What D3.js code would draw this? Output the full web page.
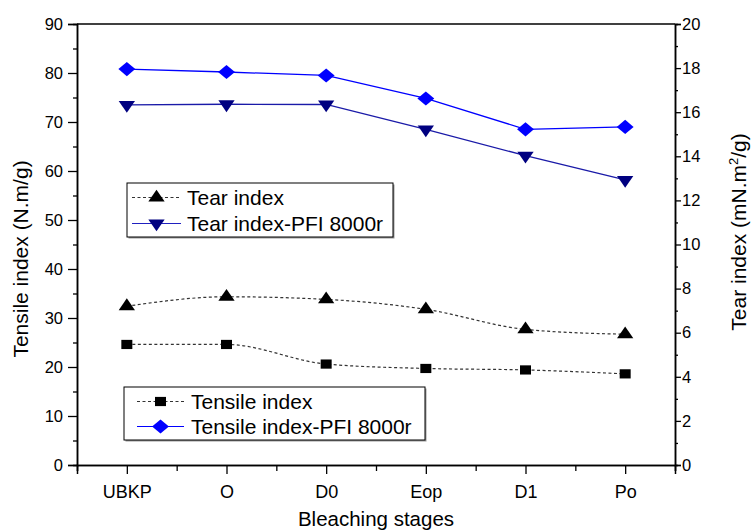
<!DOCTYPE html>
<html>
<head>
<meta charset="utf-8">
<script src="https://cdn.jsdelivr.net/npm/d3@7"></script>
<style>
  body { margin: 0; background: #fff; }
  svg { display: block; font-family: "Liberation Sans", Arial, sans-serif; }
</style>
</head>
<body>
<svg id="chart" width="751" height="531"></svg>
<script>
// data
const stages = ["UBKP", "O", "D0", "Eop", "D1", "Po"];
const tensile = [24.6, 24.6, 20.6, 19.7, 19.4, 18.6];
const tensilePFI = [80.8, 80.2, 79.5, 74.8, 68.5, 69.0];
const tear = [7.2, 7.63, 7.51, 7.06, 6.15, 5.93];
const tearPFI = [16.33, 16.36, 16.35, 15.22, 14.03, 12.93];
const leftTicks = [0, 10, 20, 30, 40, 50, 60, 70, 80, 90];
const rightTicks = [0, 2, 4, 6, 8, 10, 12, 14, 16, 18, 20];

const svg = d3.select("#chart");
const pLeft = 77, pRight = 675, pTop = 24, pBottom = 465;

let x = d3.scaleLinear().domain([0.5, 6.5]).range([pLeft, pRight]);
let yL = d3.scaleLinear().domain([0, 90]).range([pBottom, pTop]);
let yR = d3.scaleLinear().domain([0, 20]).range([pBottom, pTop]);

svg.append("rect").attr("width", 751).attr("height", 531).attr("fill", "#fff");

// axes
const axL = svg.append("g").attr("transform", `translate(${pLeft},0)`);
axL.call(d3.axisLeft(yL).tickValues(d3.range(5, 90, 10)).tickSize(4).tickFormat(""));
axL.call(g => g.append("g").call(d3.axisLeft(yL).tickValues(leftTicks).tickSize(9).tickPadding(5)));

const axR = svg.append("g").attr("transform", `translate(${pRight},0)`);
axR.call(d3.axisRight(yR).tickValues(d3.range(1, 20, 2)).tickSize(3).tickFormat(""));
axR.call(g => g.append("g").call(d3.axisRight(yR).tickValues(rightTicks).tickSize(6).tickPadding(1)));

const axB = svg.append("g").attr("transform", `translate(0,${pBottom})`);
axB.call(d3.axisBottom(x).tickValues(d3.range(0.5, 7, 1)).tickSize(6).tickFormat(""));
axB.call(g => g.append("g").call(d3.axisBottom(x).tickValues(d3.range(1, 7)).tickSize(9).tickPadding(11)
  .tickFormat((d, i) => stages[i])));

svg.append("line").attr("x1", pLeft).attr("x2", pRight).attr("y1", pTop).attr("y2", pTop)
  .attr("stroke", "#000").attr("stroke-width", 1.5);

svg.selectAll(".domain").attr("stroke", "#000").attr("stroke-width", 1.5);
svg.selectAll(".tick line").attr("stroke", "#000").attr("stroke-width", 1.3);
svg.selectAll(".tick text").attr("font-size", 16.5).attr("fill", "#000")
  .attr("font-family", "Liberation Sans, Arial, sans-serif");
axB.selectAll(".tick text").attr("font-size", 18);

// titles
svg.append("text").attr("transform", "translate(28,259) rotate(-90)")
  .attr("text-anchor", "middle").attr("font-size", 21).text("Tensile index (N.m/g)");
const rt = svg.append("text").attr("transform", "translate(746,232) rotate(-90)")
  .attr("text-anchor", "middle").attr("font-size", 21);
rt.append("tspan").text("Tear index (mN.m");
rt.append("tspan").attr("font-size", 13).attr("dy", -8).text("2");
rt.append("tspan").attr("dy", 8).text("/g)");
svg.append("text").attr("x", 376).attr("y", 526).attr("text-anchor", "middle")
  .attr("font-size", 20.5).text("Bleaching stages");

// series
const idx = d3.range(1, 7);
function drawLine(vals, scale, color, dash, curve) {
  const line = d3.line().x((d, i) => x(idx[i])).y(d => scale(d)).curve(curve);
  svg.append("path").datum(vals).attr("d", line).attr("fill", "none")
    .attr("stroke", color).attr("stroke-width", dash ? 1.2 : 1.3)
    .attr("stroke-dasharray", dash ? "3,2.5" : null);
}
drawLine(tensile, yL, "#333", true, d3.curveMonotoneX);
drawLine(tear, yR, "#333", true, d3.curveMonotoneX);
drawLine(tensilePFI, yL, "#0000ff", false, d3.curveLinear);
drawLine(tearPFI, yR, "#1a1aa8", false, d3.curveLinear);

const sym = {
  square: d3.symbol().type(d3.symbolSquare).size(100),
  diamond: d3.symbol().type(d3.symbolDiamond2).size(150),
  up: d3.symbol().type(d3.symbolTriangle).size(95),
};
function drawPts(vals, scale, shape, color, flip) {
  svg.append("g").selectAll("path").data(vals).join("path")
    .attr("transform", (d, i) => `translate(${x(idx[i])},${scale(d)}) scale(1.1,0.92)` + (flip ? " rotate(180)" : ""))
    .attr("d", sym[shape]).attr("fill", color);
}
drawPts(tensile, yL, "square", "#000");
drawPts(tear, yR, "up", "#000");
drawPts(tensilePFI, yL, "diamond", "#0000ff");
drawPts(tearPFI, yR, "up", "#000080", true);

// legends
function legend(x0, y0, w, h, items) {
  const g = svg.append("g");
  g.append("rect").attr("x", x0 + 1.5).attr("y", y0 + 1.5).attr("width", w).attr("height", h)
    .attr("fill", "#999");
  g.append("rect").attr("x", x0).attr("y", y0).attr("width", w).attr("height", h)
    .attr("fill", "#fff").attr("stroke", "#000").attr("stroke-width", 1);
  items.forEach(it => {
    g.append("line").attr("x1", x0 + it.lx0).attr("x2", x0 + it.lx1).attr("y1", it.y).attr("y2", it.y)
      .attr("stroke", it.lc).attr("stroke-width", 1.2).attr("stroke-dasharray", it.dash ? "3,2.5" : null);
    g.append("path").attr("transform", `translate(${x0 + (it.lx0 + it.lx1) / 2},${it.y}) scale(1.1,0.92)` + (it.flip ? " rotate(180)" : ""))
      .attr("d", sym[it.shape]).attr("fill", it.mc);
    g.append("text").attr("x", x0 + it.tx).attr("y", it.y + 7.5).attr("font-size", 21).text(it.label);
  });
}
legend(127, 183, 266, 54, [
  {label: "Tear index", y: 197.5, lx0: 5, lx1: 54, tx: 60, lc: "#333", dash: true, shape: "up", mc: "#000"},
  {label: "Tear index-PFI 8000r", y: 223.5, lx0: 5, lx1: 54, tx: 60, lc: "#2020c0", dash: false, shape: "up", mc: "#000080", flip: true}
]);
legend(124, 387, 301, 53, [
  {label: "Tensile index", y: 401.5, lx0: 13, lx1: 60, tx: 67, lc: "#333", dash: true, shape: "square", mc: "#000"},
  {label: "Tensile index-PFI 8000r", y: 426.5, lx0: 13, lx1: 60, tx: 67, lc: "#0000ff", dash: false, shape: "diamond", mc: "#0000ff"}
]);
</script>
</body>
</html>
